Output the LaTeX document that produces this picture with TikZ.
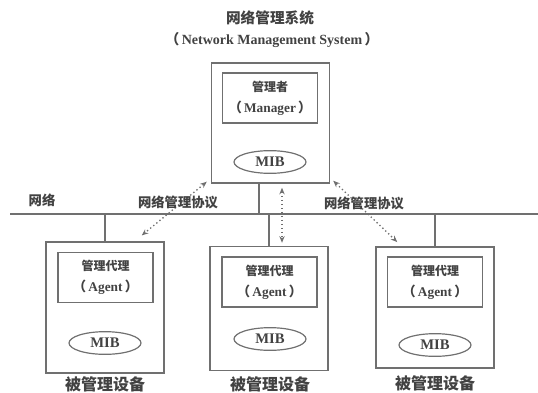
\documentclass[tikz,border=0pt]{standalone}
\usepackage{fontspec}
\setmainfont{Liberation Serif}
\newfontfamily\cjk{Noto Sans CJK SC}
\usetikzlibrary{arrows.meta,shapes.geometric}
\definecolor{linegray}{RGB}{112,112,112}
\definecolor{textgray}{RGB}{66,66,66}
\newcommand{\lpar}{{\cjk （}\,}
\newcommand{\rpar}{\,{\cjk ）}}
\tikzset{
	hostbox/.style={draw=linegray,line width=1.1pt,minimum width=88.5pt,minimum height=93pt,inner sep=0pt},%
	rolebox/.style={draw=linegray,line width=1.1pt,minimum width=71pt,minimum height=37.5pt,inner sep=0pt,align=center,text=textgray,font=\bfseries\fontsize{10}{16}\selectfont},%
	mibnode/.style={ellipse,draw=linegray,line width=0.9pt,minimum width=54pt,minimum height=17pt,inner sep=0pt,text=textgray,font=\bfseries\fontsize{11}{11}\selectfont},%
	netline/.style={linegray,line width=2pt},%
	link/.style={linegray,line width=1pt},%
	protocol/.style={linegray,dotted,line width=1pt,{Stealth[length=5pt,width=4pt]}-{Stealth[length=5pt,width=4pt]}},%
	caption/.style={text=textgray,font=\cjk\bfseries\fontsize{12}{12}\selectfont},%
	tag/.style={text=textgray,font=\cjk\bfseries\fontsize{10}{10}\selectfont},%
}
\begin{document}
\begin{tikzpicture}[x=0.75pt,y=-0.75pt]
	\useasboundingbox (0,0) rectangle (538,392);
	% Title {{{
	\node[tag,font=\cjk\bfseries\fontsize{11}{11}\selectfont] (title) at (270,18) {网络管理系统};
	\node[text=textgray,font=\bfseries\fontsize{10.5}{11}\selectfont] (subtitle) at (272,40) {\lpar Network Management System\rpar};
	% }}}
	% Manager {{{
	\node[hostbox,minimum height=90pt] (mgr) at (270.5,123) {};
	\node[rolebox] (mgrRole) at (270,98) {{\cjk\fontsize{9}{16}\selectfont 管理者}\\\lpar Manager\rpar};
	\node[mibnode] (mgrMib) at (270,162) {MIB};
	% }}}
	% Agents {{{
	\node[hostbox,minimum height=98pt] (agL) at (105,307.5) {};
	\node[rolebox] (roleL) at (105.5,277.5) {{\cjk\fontsize{9}{16}\selectfont 管理代理}\\\lpar Agent\rpar};
	\node[mibnode] (mibL) at (105,343) {MIB};
	\node[caption] (capL) at (105,384) {被管理设备};
	\node[hostbox] (agM) at (269,308.5) {};
	\node[rolebox] (roleM) at (269.5,282) {{\cjk\fontsize{9}{16}\selectfont 管理代理}\\\lpar Agent\rpar};
	\node[mibnode] (mibM) at (270,339) {MIB};
	\node[caption] (capM) at (270,384) {被管理设备};
	\node[hostbox,minimum height=91pt] (agR) at (435,307.5) {};
	\node[rolebox] (roleR) at (435,282) {{\cjk\fontsize{9}{16}\selectfont 管理代理}\\\lpar Agent\rpar};
	\node[mibnode] (mibR) at (435,345) {MIB};
	\node[caption] (capR) at (435,383) {被管理设备};
	% }}}
	% Network {{{
	\coordinate (netL) at (10,214);
	\coordinate (netR) at (538,214);
	\coordinate (tapM) at (259,214);
	\draw[netline] (netL) -- (netR);
	\node[tag] (net) at (42,200) {网络};
	\draw[link] (tapM) -- (tapM |- mgr.south);
	\draw[link] (agL.north) -- (agL.north |- netL);
	\draw[link] (agM.north) -- (agM.north |- netL);
	\draw[link] (agR.north) -- (agR.north |- netL);
	% }}}
	% Protocol {{{
	\draw[protocol] ([shift={(-4,-2)}]mgr.south west) -- ([shift={(-23,-6)}]agL.north east);
	\draw[protocol] ([shift={(11.5,4)}]mgr.south) -- ([shift={(13,-3)}]agM.north);
	\draw[protocol] ([shift={(3,-3)}]mgr.south east) -- ([shift={(22,-4)}]agR.north west);
	\node[tag] (protoL) at (178,202) {网络管理协议};
	\node[tag] (protoR) at (364,203) {网络管理协议};
	% }}}
\end{tikzpicture}
\end{document}
